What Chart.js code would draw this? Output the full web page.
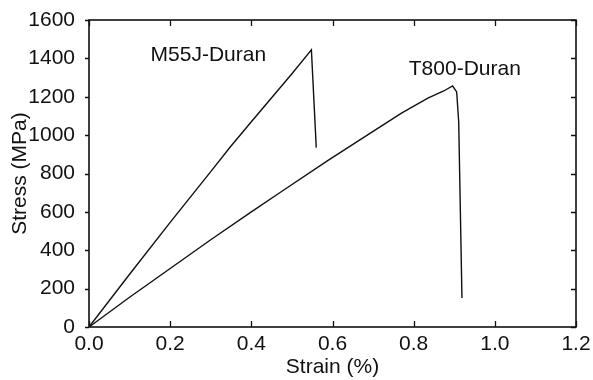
<!DOCTYPE html>
<html>
<head>
<meta charset="utf-8">
<script src="https://cdn.jsdelivr.net/npm/chart.js@4.4.1/dist/chart.umd.min.js"></script>
<style>
  html, body { margin: 0; padding: 0; background: #fff; }
  #wrap { width: 593px; height: 380px; position: relative; }
</style>
</head>
<body>
<div id="wrap"><canvas id="chart"></canvas></div>
<script>
// values
const m55jStrain = [0, 0.1, 0.2, 0.3, 0.348, 0.4, 0.5, 0.548, 0.560];
const m55jStress = [0, 275, 545, 810, 938, 1070, 1320, 1445, 935];

const t800Strain = [0, 0.1, 0.2, 0.3, 0.4, 0.48, 0.59, 0.7, 0.77, 0.835, 0.874, 0.896, 0.906, 0.911, 0.919];
const t800Stress = [0, 155, 305, 455, 600, 714, 870, 1020, 1115, 1193, 1230, 1256, 1225, 1068, 151];

const xTicks = [0, 0.2, 0.4, 0.6, 0.8, 1.0, 1.2];
const yTicks = [0, 200, 400, 600, 800, 1000, 1200, 1400, 1600];

const curveLabels = ['M55J-Duran', 'T800-Duran'];

const FONT = '"Liberation Sans", Arial, Helvetica, sans-serif';
const INK = '#111';

function toPoints(xs, ys) {
    return xs.map((x, i) => ({ x: x, y: ys[i] }));
}

// frame, inward ticks and curve labels
const framePlugin = {
    id: 'frame',
    afterDraw(chart) {
        const ctx = chart.ctx;
        const a = chart.chartArea;
        const sx = chart.scales.x;
        const sy = chart.scales.y;
        ctx.save();
        ctx.strokeStyle = INK;
        ctx.lineWidth = 1.6;
        ctx.strokeRect(a.left, a.top, a.right - a.left, a.bottom - a.top);

        ctx.lineWidth = 1.3;
        ctx.beginPath();
        xTicks.forEach(v => {
            const px = Math.round(sx.getPixelForValue(v)) + 0.5;
            ctx.moveTo(px, a.bottom); ctx.lineTo(px, a.bottom - 6);
            ctx.moveTo(px, a.top); ctx.lineTo(px, a.top + 6);
        });
        yTicks.forEach(v => {
            const py = Math.round(sy.getPixelForValue(v)) + 0.5;
            ctx.moveTo(a.left, py); ctx.lineTo(a.left - 4, py);
            ctx.moveTo(a.right, py); ctx.lineTo(a.right - 5, py);
        });
        ctx.stroke();

        // curve labels
        ctx.fillStyle = INK;
        ctx.font = '21px ' + FONT;
        ctx.textAlign = 'center';
        ctx.textBaseline = 'middle';
        ctx.fillText(curveLabels[0], sx.getPixelForValue(0.294), sy.getPixelForValue(1418));
        ctx.fillText(curveLabels[1], sx.getPixelForValue(0.926), sy.getPixelForValue(1345));
        ctx.restore();
    }
};

const lineStyle = {
    borderColor: INK,
    borderWidth: 1.4,
    pointRadius: 0,
    tension: 0,
    fill: false
};

new Chart(document.getElementById('chart').getContext('2d'), {
    type: 'line',
    data: {
        datasets: [
            Object.assign({ label: curveLabels[0], data: toPoints(m55jStrain, m55jStress) }, lineStyle),
            Object.assign({ label: curveLabels[1], data: toPoints(t800Strain, t800Stress) }, lineStyle)
        ]
    },
    options: {
        responsive: true,
        maintainAspectRatio: false,
        animation: false,
        layout: { padding: { top: 20, right: 17, left: 0, bottom: 0 } },
        plugins: {
            legend: { display: false },
            tooltip: { enabled: false }
        },
        scales: {
            x: {
                type: 'linear',
                min: 0,
                max: 1.2,
                afterBuildTicks: s => { s.ticks = xTicks.map(v => ({ value: v })); },
                afterFit: s => { s.height = 53; },
                grid: { display: false },
                border: { display: false },
                ticks: {
                    color: INK,
                    padding: -3,
                    maxRotation: 0,
                    font: { size: 21, family: FONT },
                    callback: v => Number(v).toFixed(1)
                },
                title: {
                    display: true,
                    text: 'Strain (%)',
                    color: INK,
                    padding: { top: 0, bottom: 0 },
                    font: { size: 21, family: FONT }
                }
            },
            y: {
                type: 'linear',
                min: 0,
                max: 1600,
                afterBuildTicks: s => { s.ticks = yTicks.map(v => ({ value: v })); },
                afterFit: s => { s.width = 89; },
                grid: { display: false },
                border: { display: false },
                ticks: {
                    color: INK,
                    padding: 6,
                    font: { size: 21, family: FONT },
                    callback: v => String(v)
                },
                title: {
                    display: true,
                    text: 'Stress (MPa)',
                    color: INK,
                    padding: { top: 8, bottom: 0 },
                    font: { size: 21, family: FONT }
                }
            }
        }
    },
    plugins: [framePlugin]
});
</script>
</body>
</html>
